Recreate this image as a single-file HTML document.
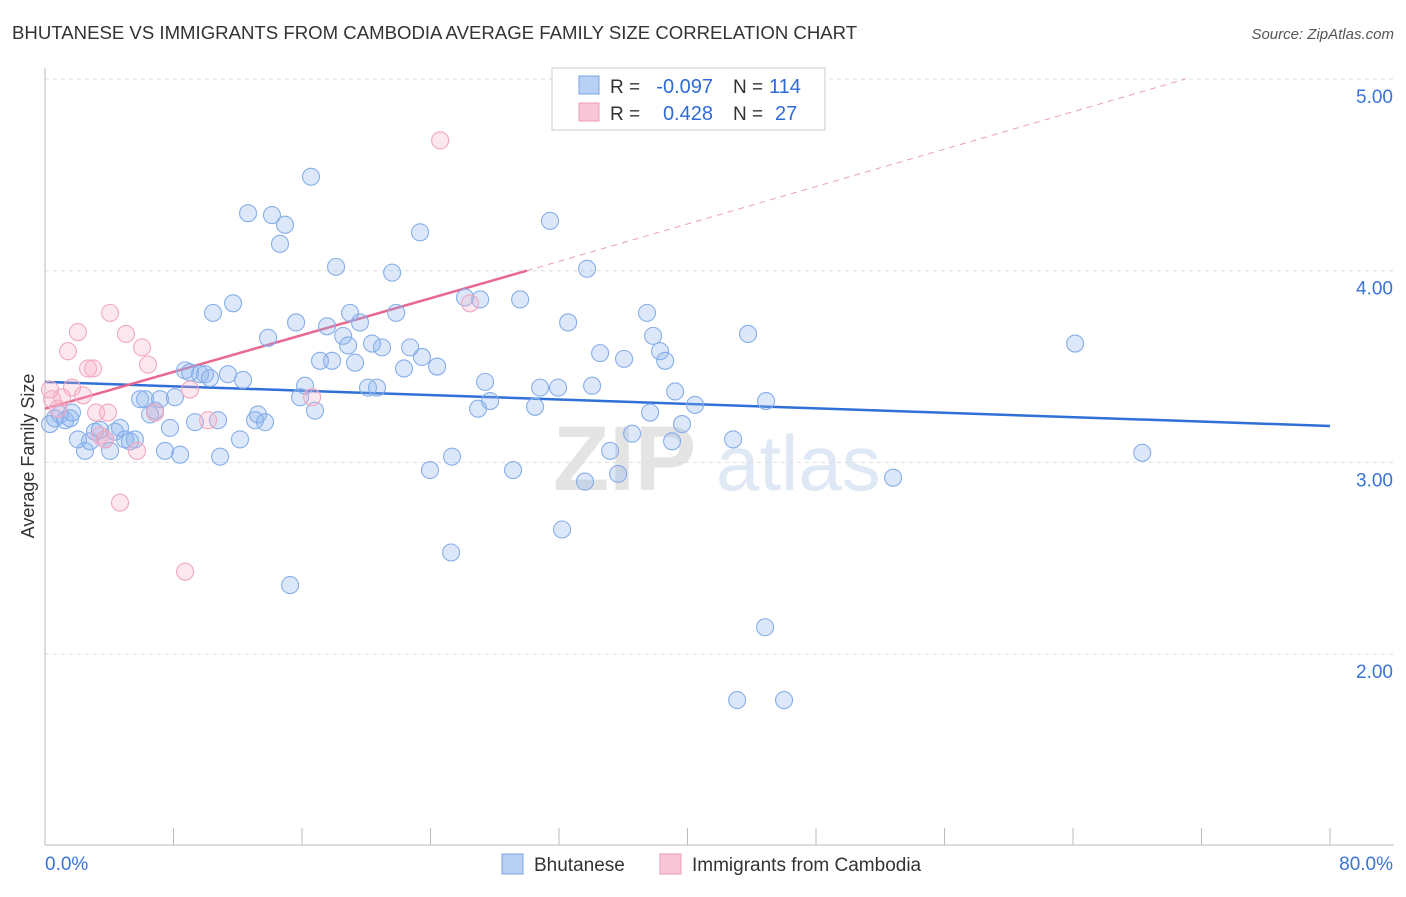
<!DOCTYPE html>
<html><head><meta charset="utf-8"><style>
body{margin:0;background:#fff;font-family:"Liberation Sans",sans-serif;}
svg text{font-family:"Liberation Sans",sans-serif;}
</style></head><body>
<svg id="chart" width="1406" height="892">
<text x="12" y="39" font-size="18.6" fill="#333">BHUTANESE VS IMMIGRANTS FROM CAMBODIA AVERAGE FAMILY SIZE CORRELATION CHART</text>
<text x="1394" y="39" font-size="15" fill="#555" font-style="italic" text-anchor="end">Source: ZipAtlas.com</text>
<text x="34" y="456" font-size="18" fill="#333" text-anchor="middle" transform="rotate(-90 34 456)">Average Family Size</text>
<g><text x="553" y="490" font-size="92" fill="#e4e4e4" font-family="Liberation Serif" font-weight="bold">ZIP</text><text x="716" y="490" font-size="78" fill="#dfe8f5">atlas</text></g>
<g id="grid"></g><g id="axes"></g><g id="lines"></g><g id="pts"></g>
<g>
<rect x="552" y="68" width="273" height="62" fill="#fff" stroke="#ccc"/>
<rect x="579" y="76" width="20" height="18" fill="#b8d0f4" stroke="#7aa3e0"/>
<rect x="579" y="103" width="20" height="18" fill="#f8c6d6" stroke="#ee9ab6"/>
<text x="610" y="93" font-size="19" fill="#333">R =</text>
<text x="713" y="93" font-size="20" fill="#2f6bd8" text-anchor="end">-0.097</text>
<text x="733" y="93" font-size="19" fill="#333">N =</text>
<text x="769" y="93" font-size="20" fill="#2f6bd8">114</text>
<text x="610" y="120" font-size="19" fill="#333">R =</text>
<text x="713" y="120" font-size="20" fill="#2f6bd8" text-anchor="end">0.428</text>
<text x="733" y="120" font-size="19" fill="#333">N =</text>
<text x="775" y="120" font-size="20" fill="#2f6bd8">27</text>
</g>
<g>
<rect x="502" y="854" width="21" height="20" fill="#b8d0f4" stroke="#7aa3e0"/>
<text x="534" y="871" font-size="19" fill="#333">Bhutanese</text>
<rect x="660" y="854" width="21" height="20" fill="#f8c6d6" stroke="#ee9ab6"/>
<text x="692" y="871" font-size="19" fill="#333">Immigrants from Cambodia</text>
</g>
</svg>
<script>
const xTickLabels=["0.0%","80.0%"];
const yTicks=[2,3,4,5];
const blueX=[0.31,0.62,0.93,1.25,1.56,1.68,2.05,2.49,2.80,3.11,3.42,3.74,4.05,4.36,4.67,4.98,5.29,5.60,5.92,6.23,6.54,6.85,7.16,7.47,7.78,8.09,8.41,8.72,9.03,9.34,9.65,9.96,10.27,10.46,10.77,10.90,11.39,11.71,12.14,12.33,12.64,13.08,13.26,13.70,13.89,14.13,14.63,14.94,15.26,15.63,15.88,16.19,16.56,16.81,17.12,17.56,17.87,18.12,18.56,18.87,18.99,19.30,19.61,20.11,20.36,20.67,20.98,21.61,21.86,22.35,22.73,23.35,23.47,23.97,24.41,25.28,25.34,26.15,26.96,27.09,27.40,27.71,29.14,29.58,30.51,30.82,31.44,31.94,32.19,32.57,33.62,33.75,34.06,34.56,35.18,35.68,36.05,36.55,37.48,37.67,37.86,38.29,38.61,39.04,39.23,39.66,40.47,42.84,43.09,43.77,44.83,44.89,46.01,52.80,64.13,68.31];
const blueY=[3.20,3.23,3.25,3.22,3.23,3.26,3.12,3.06,3.11,3.16,3.17,3.12,3.06,3.16,3.18,3.12,3.11,3.12,3.33,3.33,3.25,3.27,3.33,3.06,3.18,3.34,3.04,3.48,3.47,3.21,3.46,3.46,3.44,3.78,3.22,3.03,3.46,3.83,3.12,3.43,4.30,3.22,3.25,3.21,3.65,4.29,4.14,4.24,2.36,3.73,3.34,3.40,4.49,3.27,3.53,3.71,3.53,4.02,3.66,3.61,3.78,3.52,3.73,3.39,3.62,3.39,3.60,3.99,3.78,3.49,3.60,4.20,3.55,2.96,3.50,2.53,3.03,3.86,3.28,3.85,3.42,3.32,2.96,3.85,3.29,3.39,4.26,3.39,2.65,3.73,2.90,4.01,3.40,3.57,3.06,2.94,3.54,3.15,3.78,3.26,3.66,3.58,3.53,3.11,3.37,3.20,3.30,3.12,1.76,3.67,2.14,3.32,1.76,2.92,3.62,3.05];
const pinkX=[0.31,0.44,0.81,1.06,1.43,1.68,2.05,2.37,2.68,2.99,3.18,3.42,3.74,3.92,4.05,4.67,5.04,5.73,6.04,6.41,6.85,8.72,9.03,10.15,16.63,24.60,26.46];
const pinkY=[3.38,3.33,3.28,3.34,3.58,3.39,3.68,3.35,3.49,3.49,3.26,3.14,3.12,3.26,3.78,2.79,3.67,3.06,3.60,3.51,3.26,2.43,3.38,3.22,3.34,4.68,3.83];
const blueTrend=[[0,3.42],[80,3.19]];
const pinkTrend=[[0,3.28],[30,4.00],[71,5.0]];
const X=v=>45+v/80*1285, Y=v=>79+(5-v)*191.7;
const NS="http://www.w3.org/2000/svg";
function mk(tag,attrs,parent){const e=document.createElementNS(NS,tag);for(const k in attrs)e.setAttribute(k,attrs[k]);document.getElementById(parent).appendChild(e);return e;}
yTicks.forEach(t=>{
 const l=mk('line',{x1:45,x2:1394,y1:Y(t),y2:Y(t),stroke:'#ddd','stroke-dasharray':'4,4'},'grid');
 
 
 const tx=mk('text',{x:1393,y:Y(t)+24,'font-size':19,fill:'#3a74d8','text-anchor':'end'},'grid');
 tx.textContent=t.toFixed(2);
 
 
});
mk('line',{x1:45,x2:45,y1:68,y2:845,stroke:'#bbb'},'axes');
mk('line',{x1:45,x2:1394,y1:845,y2:845,stroke:'#bbb'},'axes');
for(let i=0;i<=10;i++){const t=mk('line',{x1:X(i*8),x2:X(i*8),y1:828,y2:845,stroke:'#bbb'},'axes');
 
 }
const xl0=mk('text',{x:45,y:870,'font-size':19,fill:'#3a74d8'},'axes');xl0.textContent=xTickLabels[0];


const xl1=mk('text',{x:1393,y:870,'font-size':19,fill:'#3a74d8','text-anchor':'end'},'axes');xl1.textContent=xTickLabels[1];


blueX.forEach((x,i)=>{const c=mk('circle',{cx:X(x),cy:Y(blueY[i]),r:8.5,fill:'rgba(140,180,240,0.3)',stroke:'#86aee8','stroke-width':1.1},'pts');
 
 });
pinkX.forEach((x,i)=>{const c=mk('circle',{cx:X(x),cy:Y(pinkY[i]),r:8.5,fill:'rgba(248,175,200,0.3)',stroke:'#f0a8c0','stroke-width':1.1},'pts');
 
 });
const bl=mk('line',{x1:X(blueTrend[0][0]),y1:Y(blueTrend[0][1]),x2:X(blueTrend[1][0]),y2:Y(blueTrend[1][1]),stroke:'#2f6fd6','stroke-width':2.5},'lines');


const pl=mk('line',{x1:X(pinkTrend[0][0]),y1:Y(pinkTrend[0][1]),x2:X(pinkTrend[1][0]),y2:Y(pinkTrend[1][1]),stroke:'#e8688f','stroke-width':2.5},'lines');


const pd=mk('line',{x1:X(pinkTrend[1][0]),y1:Y(pinkTrend[1][1]),x2:X(pinkTrend[2][0]),y2:Y(pinkTrend[2][1]),stroke:'#e8a0b8','stroke-width':1,'stroke-dasharray':'6,5'},'lines');


</script>
</body></html>
